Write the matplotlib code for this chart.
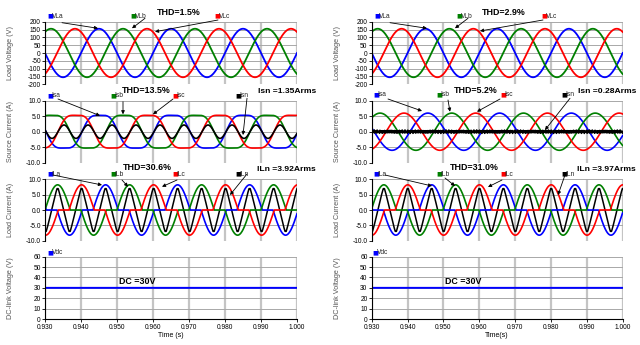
import numpy as np
import matplotlib
matplotlib.use('Agg')
import matplotlib.pyplot as plt
from matplotlib import rc
rc('font', family='Liberation Sans')

# time window of the scope capture (s)
t_start = 0.930
t_end = 1.000
f_line = 50.0
x_ticks = [0.930, 0.940, 0.950, 0.960, 0.970, 0.980, 0.990, 1.000]

# phases a, b, c (deg) and trace colours
phase_deg = [0, -120, 120]
phase_col = ['#0000ff', '#008000', '#ff0000']

# values: [left case, right case]
vl_peak = [155.0, 155.0]          # load voltage peak (V)
is_peak = [6.0, 6.0]              # source current fundamental peak (A)
is_h3 = [0.12, 0.0]               # 3rd harmonic / fundamental in source current
is_lag_deg = [-5.0, -12.0]
il_peak = [8.2, 8.2]              # load current peak (A)
il_lobe_deg = [126.0, 126.0]      # conduction width of each half-cycle lobe
il_lag_deg = [33.0, 31.0]
vdc_level = [30.0, 30.0]
# switching ripple left on the source neutral current (right case only)
ripple_hz = [2450.0, 3850.0, 5150.0]
ripple_amp = [[0.0, 0.0, 0.0], [0.25, 0.18, 0.12]]

thd_v = ['THD=1.5%', 'THD=2.9%']
thd_is = ['THD=13.5%', 'THD=5.2%']
thd_il = ['THD=30.6%', 'THD=31.0%']
isn_rms = ['Isn =1.35Arms', 'Isn =0.28Arms']
iln_rms = ['ILn =3.92Arms', 'ILn =3.97Arms']
dc_txt = ['DC =30V', 'DC =30V']

names_v = ['VLa', 'VLb', 'VLc']
names_is = ['Isa', 'Isb', 'Isc', 'Isn']
names_il = ['ILa', 'ILb', 'ILc', 'ILn']

row_ylabel = ['Load Voltage (V)', 'Source Current (A)', 'Load Current (A)', 'DC-link Voltage (V)']
row_ylim = [(-200, 200), (-10, 10), (-10, 10), (0, 60)]
row_yticks = [list(range(-200, 201, 50)), [-10, -5, 0, 5, 10], [-10, -5, 0, 5, 10], list(range(0, 61, 10))]
row_yfmt = ['%d', '%.1f', '%.1f', '%d']
xlabel = ['Time (s)', 'Time(s)']

# layout in pixels of the 640x345 picture
W, H = 640.0, 345.0
col_x = [(45.0, 252.0), (371.7, 251.0)]
row_y = [(21.7, 84.3), (100.7, 162.7), (179.3, 240.7), (256.7, 319.0)]

# legend keys (marker left px, centre y px)
leg_v = [[(47, 16), (130, 16), (214, 16)], [(374, 16), (456, 16), (541, 16)]]
leg_is = [[(47, 95.7), (110, 95.7), (172, 95.7), (235, 95.7)],
          [(373, 95), (436, 95), (500, 95), (561, 95)]]
leg_il = [[(47, 174), (110, 174), (172, 174), (235, 174)],
          [(373, 174), (436, 174), (500, 174), (561, 174)]]
leg_dc = [(47, 252.5), (372, 252.5)]

# arrows (tail px, head px)
arr_v = [[((62, 22.7), (98, 28.3)), ((145, 18.3), (132, 28.3)), ((218, 20), (155, 31.7))],
         [((390, 22.7), (427, 28.3)), ((468, 18.3), (455, 28.3)), ((543, 20), (480, 31))]]
arr_is = [[((58, 99), (100, 115.7)), ((123, 101.7), (123, 114.3)), ((173, 99), (153, 114.3)), ((247, 98.3), (243, 135))],
          [((388, 99), (422, 111)), ((448, 100), (450, 111.7)), ((500, 99), (477, 111.7)), ((570, 98.3), (545, 130))]]
arr_il = [[((53, 175), (102, 185)), ((122, 180), (128, 186.7)), ((177, 180), (162, 186.7)), ((247, 174), (230, 195))],
          [((385, 175), (432, 186)), ((445, 178), (455, 186)), ((502, 180), (488, 187)), ((565, 175), (558, 195))]]

# big labels: (text centre x px, y px)
pos_thd_v = [(179, 12.7), (504, 12.7)]
pos_thd_is = [(146.7, 90.7), (476, 90.7)]
pos_thd_il = [(147.5, 167.5), (474, 167.5)]
pos_isn = [(258, 92), (578, 92)]      # left aligned
pos_iln = [(257, 169.5), (577, 169.5)]    # left aligned
pos_dc = [(119, 281.7), (445, 281.7)]  # left aligned


def fx(px):
    return px / W


def fy(py):
    return 1.0 - py / H


def lobe(x_deg, width):
    # half-cycle current lobes of a rectifier type load, shaped like -sin(x)
    x = np.mod(x_deg, 360.0)
    out = np.zeros_like(x)
    a0 = 90.0 - width / 2.0
    m = (x >= a0) & (x <= a0 + width)
    out[m] = -np.sin(np.pi * (x[m] - a0) / width)
    b0 = 270.0 - width / 2.0
    m = (x >= b0) & (x <= b0 + width)
    out[m] = np.sin(np.pi * (x[m] - b0) / width)
    return out


t = np.linspace(t_start, t_end, 7001)
theta = 360.0 * f_line * (t - t_start)

fig = plt.figure(figsize=(6.4, 3.45), dpi=100)


def make_axes(c, r):
    x0, w = col_x[c]
    top, bot = row_y[r]
    ax = fig.add_axes([fx(x0), fy(bot), w / W, (bot - top) / H])
    ax.set_xlim(t_start, t_end)
    ax.set_ylim(*row_ylim[r])
    ax.set_xticks(x_ticks)
    ax.set_yticks(row_yticks[r])
    ax.set_yticklabels([row_yfmt[r] % v for v in row_yticks[r]], fontsize=4.8)
    for s in ['top', 'right', 'bottom']:
        ax.spines[s].set_visible(False)
    ax.spines['left'].set_linewidth(0.8)
    ax.xaxis.grid(True, color='#c4c4c4', lw=1.6)
    ax.yaxis.grid(True, color='#a8a8a8', lw=0.7)
    ax.set_axisbelow(True)
    ax.tick_params(axis='y', length=2, width=0.6, pad=1)
    if r == 3:
        ax.spines['bottom'].set_visible(True)
        ax.spines['bottom'].set_linewidth(0.8)
        ax.set_xticklabels(['%.3f' % v for v in x_ticks], fontsize=4.8)
        ax.tick_params(axis='x', length=2, width=0.6, pad=1.5)
        ax.set_xlabel(xlabel[c], fontsize=5, labelpad=0.5)
    else:
        ax.tick_params(axis='x', length=0, labelbottom=False)
    ax.set_ylabel(row_ylabel[r], fontsize=5.2, color='#555555')
    ax.yaxis.set_label_coords(-0.122, 0.5)
    return ax


def key(px, py, name, col):
    fig.text(fx(px), fy(py), '\u25a0', color=col, fontsize=4.5, ha='left', va='center',
             family='DejaVu Sans')
    fig.text(fx(px + 4.5), fy(py), name, color='#222222', fontsize=4.8, ha='left', va='center')


def arrow(tail, head):
    fig.add_artist(matplotlib.patches.FancyArrowPatch(
        (fx(tail[0]), fy(tail[1])), (fx(head[0]), fy(head[1])),
        transform=fig.transFigure, arrowstyle='-|>', mutation_scale=5,
        lw=0.6, color='k', shrinkA=0, shrinkB=0))


def big(x, y, s, ha='center', size=6.4):
    fig.text(fx(x), fy(y), s, fontsize=size, fontweight='bold', ha=ha, va='center')


for c in range(2):
    # load voltages
    ax = make_axes(c, 0)
    for k in range(3):
        v = -vl_peak[c] * np.sin(np.radians(theta + phase_deg[k]))
        ax.plot(t, v, color=phase_col[k], lw=1.3)
        key(leg_v[c][k][0], leg_v[c][k][1], names_v[k], phase_col[k])
        arrow(*arr_v[c][k])
    big(pos_thd_v[c][0], pos_thd_v[c][1], thd_v[c])

    # source currents
    ax = make_axes(c, 1)
    isn = np.zeros_like(t)
    for k in range(3):
        x = np.radians(theta + phase_deg[k] + is_lag_deg[c])
        i = -is_peak[c] * (np.sin(x) + is_h3[c] * np.sin(3 * x))
        isn += i
        ax.plot(t, i, color=phase_col[k], lw=1.2)
    for a, f in zip(ripple_amp[c], ripple_hz):
        isn += a * np.sin(2 * np.pi * f * t)
    ax.plot(t, isn, color='k', lw=1.2)
    for k in range(4):
        key(leg_is[c][k][0], leg_is[c][k][1], names_is[k], (phase_col + ['k'])[k])
        arrow(*arr_is[c][k])
    big(pos_thd_is[c][0], pos_thd_is[c][1], thd_is[c])
    big(pos_isn[c][0], pos_isn[c][1], isn_rms[c], ha='left', size=6.1)

    # load currents
    ax = make_axes(c, 2)
    iln = np.zeros_like(t)
    lines = []
    for k in range(3):
        i = il_peak[c] * lobe(theta + phase_deg[k] - il_lag_deg[c], il_lobe_deg[c])
        iln += i
        lines.append(i)
    ax.plot(t, iln, color='k', lw=1.1)
    for k in range(3):
        ax.plot(t, lines[k], color=phase_col[k], lw=1.2)
    for k in range(4):
        key(leg_il[c][k][0], leg_il[c][k][1], names_il[k], (phase_col + ['k'])[k])
        arrow(*arr_il[c][k])
    big(pos_thd_il[c][0], pos_thd_il[c][1], thd_il[c])
    big(pos_iln[c][0], pos_iln[c][1], iln_rms[c], ha='left', size=6.1)

    # dc link
    ax = make_axes(c, 3)
    ax.plot(t, np.full_like(t, vdc_level[c]), color='#0000ff', lw=1.4)
    key(leg_dc[c][0], leg_dc[c][1], 'Vdc', '#0000ff')
    big(pos_dc[c][0], pos_dc[c][1], dc_txt[c], ha='left')

fig.savefig('out.png', dpi=100)
